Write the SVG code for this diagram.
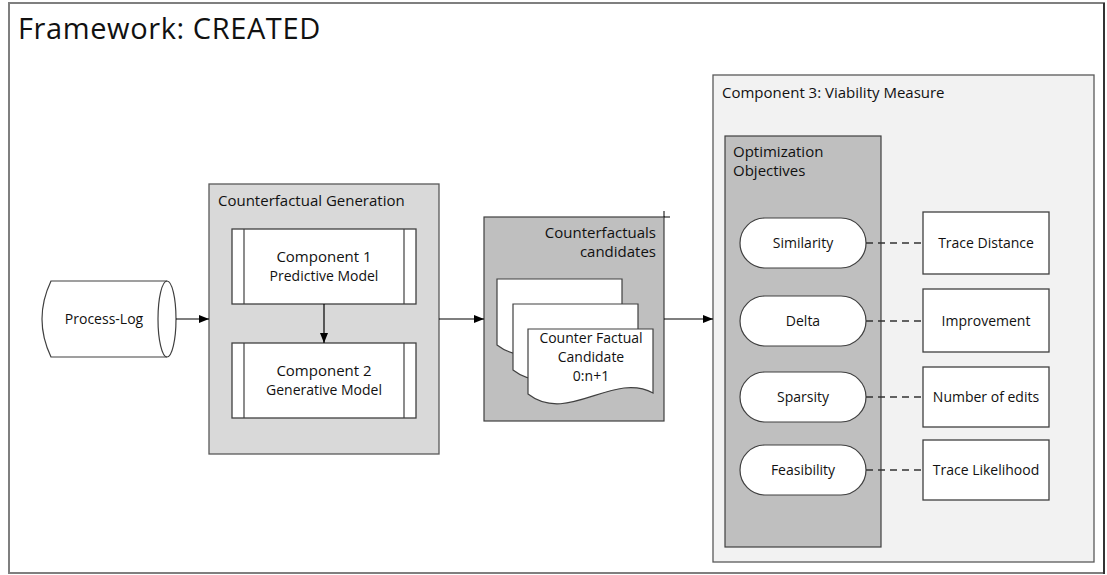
<svg xmlns="http://www.w3.org/2000/svg" width="1107" height="575" viewBox="0 0 1107 575">
<style>
text{font-family:"Open Sans","Noto Sans","Liberation Sans",sans-serif;fill:#111;}
.t15{font-size:15px;}
.t14{font-size:14px;}
.mid{text-anchor:middle;}
.end{text-anchor:end;}
.box{fill:#fff;stroke:#404040;stroke-width:1.3;}
.pill{fill:#fff;stroke:#404040;stroke-width:1.2;}
.dash{stroke:#333;stroke-width:1.3;stroke-dasharray:7,5;fill:none;}
.arr{stroke:#000;stroke-width:1.2;fill:none;marker-end:url(#ah);}
</style>
<defs>
<marker id="ah" markerWidth="10" markerHeight="8" refX="10" refY="4" orient="auto" markerUnits="userSpaceOnUse">
<path d="M0,0 L10,4 L0,8 Z" fill="#000"/>
</marker>
</defs>
<rect x="0" y="0" width="1107" height="575" fill="#fff"/>
<g id="frame">
<rect x="9" y="3" width="1095" height="570" fill="#fff" stroke="#7f7f7f" stroke-width="2"/>
<line x1="1104" y1="3" x2="1104" y2="574" stroke="#000" stroke-width="1.2"/>
<text x="18" y="39" style="font-size:29px;letter-spacing:0.6px">Framework: CREATED</text>
</g>
<g id="process-log">
<path d="M51,281 L167,281 A9,38 0 0 1 167,357 L51,357 Q33,319 51,281 Z" fill="#fff" stroke="#404040" stroke-width="1.2"/>
<path d="M167,281 A9,38 0 0 0 167,357" fill="none" stroke="#404040" stroke-width="1.2"/>
<text x="104" y="324" class="t14 mid">Process-Log</text>
</g>
<g id="counterfactual-generation">
<rect x="209" y="184" width="230" height="270" fill="#d9d9d9" stroke="#595959" stroke-width="1.3"/>
<text x="218" y="206" class="t15">Counterfactual Generation</text>
</g>
<g id="component-1">
<rect x="232" y="229" width="184" height="75" class="box"/>
<line x1="244" y1="229" x2="244" y2="304" stroke="#404040" stroke-width="1.2"/>
<line x1="404" y1="229" x2="404" y2="304" stroke="#404040" stroke-width="1.2"/>
<text x="324" y="262" class="t15 mid">Component 1</text>
<text x="324" y="281" class="t14 mid">Predictive Model</text>
</g>
<g id="component-2">
<rect x="232" y="343" width="184" height="75" class="box"/>
<line x1="244" y1="343" x2="244" y2="418" stroke="#404040" stroke-width="1.2"/>
<line x1="404" y1="343" x2="404" y2="418" stroke="#404040" stroke-width="1.2"/>
<text x="324" y="376" class="t15 mid">Component 2</text>
<text x="324" y="395" class="t14 mid">Generative Model</text>
</g>
<g id="counterfactual-candidates">
<rect x="484" y="217" width="180" height="204" fill="#bfbfbf" stroke="#404040" stroke-width="1.2"/>
<line x1="664" y1="217" x2="670" y2="217" stroke="#000" stroke-width="1"/>
<line x1="664" y1="211" x2="664" y2="217" stroke="#000" stroke-width="1"/>
<text x="656" y="238" class="t15 end">Counterfactuals</text>
<text x="656" y="257" class="t15 end">candidates</text>
<path d="M497,279 H622 V344 C582,322 537,376 497,345 Z" fill="#fff" stroke="#404040" stroke-width="1.2"/>
<path d="M513,304 H638 V369 C598,347 553,401 513,370 Z" fill="#fff" stroke="#404040" stroke-width="1.2"/>
<path d="M528,329 H653 V393 C613,371 568,425 528,394 Z" fill="#fff" stroke="#404040" stroke-width="1.2"/>
<text x="591" y="343" class="t14 mid">Counter Factual</text>
<text x="591" y="362" class="t14 mid">Candidate</text>
<text x="591" y="381" class="t14 mid">0:n+1</text>
</g>
<g id="component-3">
<rect x="713" y="75" width="381" height="487" fill="#f2f2f2" stroke="#595959" stroke-width="1.3"/>
<text x="722" y="98" class="t15">Component 3: Viability Measure</text>
</g>
<g id="optimization-objectives">
<rect x="725" y="136" width="156" height="411" fill="#bfbfbf" stroke="#404040" stroke-width="1.2"/>
<text x="733" y="157" class="t15">Optimization</text>
<text x="733" y="176" class="t15">Objectives</text>
</g>
<g id="similarity">
<rect x="740" y="218" width="126" height="50" rx="25" class="pill"/>
<text x="803" y="248" class="t14 mid">Similarity</text>
</g>
<g id="delta">
<rect x="740" y="296" width="126" height="50" rx="25" class="pill"/>
<text x="803" y="326" class="t14 mid">Delta</text>
</g>
<g id="sparsity">
<rect x="740" y="372" width="126" height="50" rx="25" class="pill"/>
<text x="803" y="402" class="t14 mid">Sparsity</text>
</g>
<g id="feasibility">
<rect x="740" y="445" width="126" height="50" rx="25" class="pill"/>
<text x="803" y="475" class="t14 mid">Feasibility</text>
</g>
<g id="trace-distance">
<rect x="923" y="212" width="126" height="62" class="box"/>
<text x="986" y="248" class="t14 mid">Trace Distance</text>
</g>
<g id="improvement">
<rect x="923" y="289" width="126" height="63" class="box"/>
<text x="986" y="326" class="t14 mid">Improvement</text>
</g>
<g id="number-of-edits">
<rect x="923" y="367" width="126" height="60" class="box"/>
<text x="986" y="402" class="t14 mid">Number of edits</text>
</g>
<g id="trace-likelihood">
<rect x="923" y="440" width="126" height="60" class="box"/>
<text x="986" y="475" class="t14 mid">Trace Likelihood</text>
</g>
<g id="connectors">
<line x1="176" y1="319" x2="209" y2="319" class="arr"/>
<line x1="324" y1="304" x2="324" y2="343" class="arr"/>
<line x1="439" y1="319" x2="484" y2="319" class="arr"/>
<line x1="664" y1="319" x2="713" y2="319" class="arr"/>
<line x1="866" y1="243" x2="923" y2="243" class="dash"/>
<line x1="866" y1="321" x2="923" y2="321" class="dash"/>
<line x1="866" y1="397" x2="923" y2="397" class="dash"/>
<line x1="866" y1="470" x2="923" y2="470" class="dash"/>
</g>
</svg>
